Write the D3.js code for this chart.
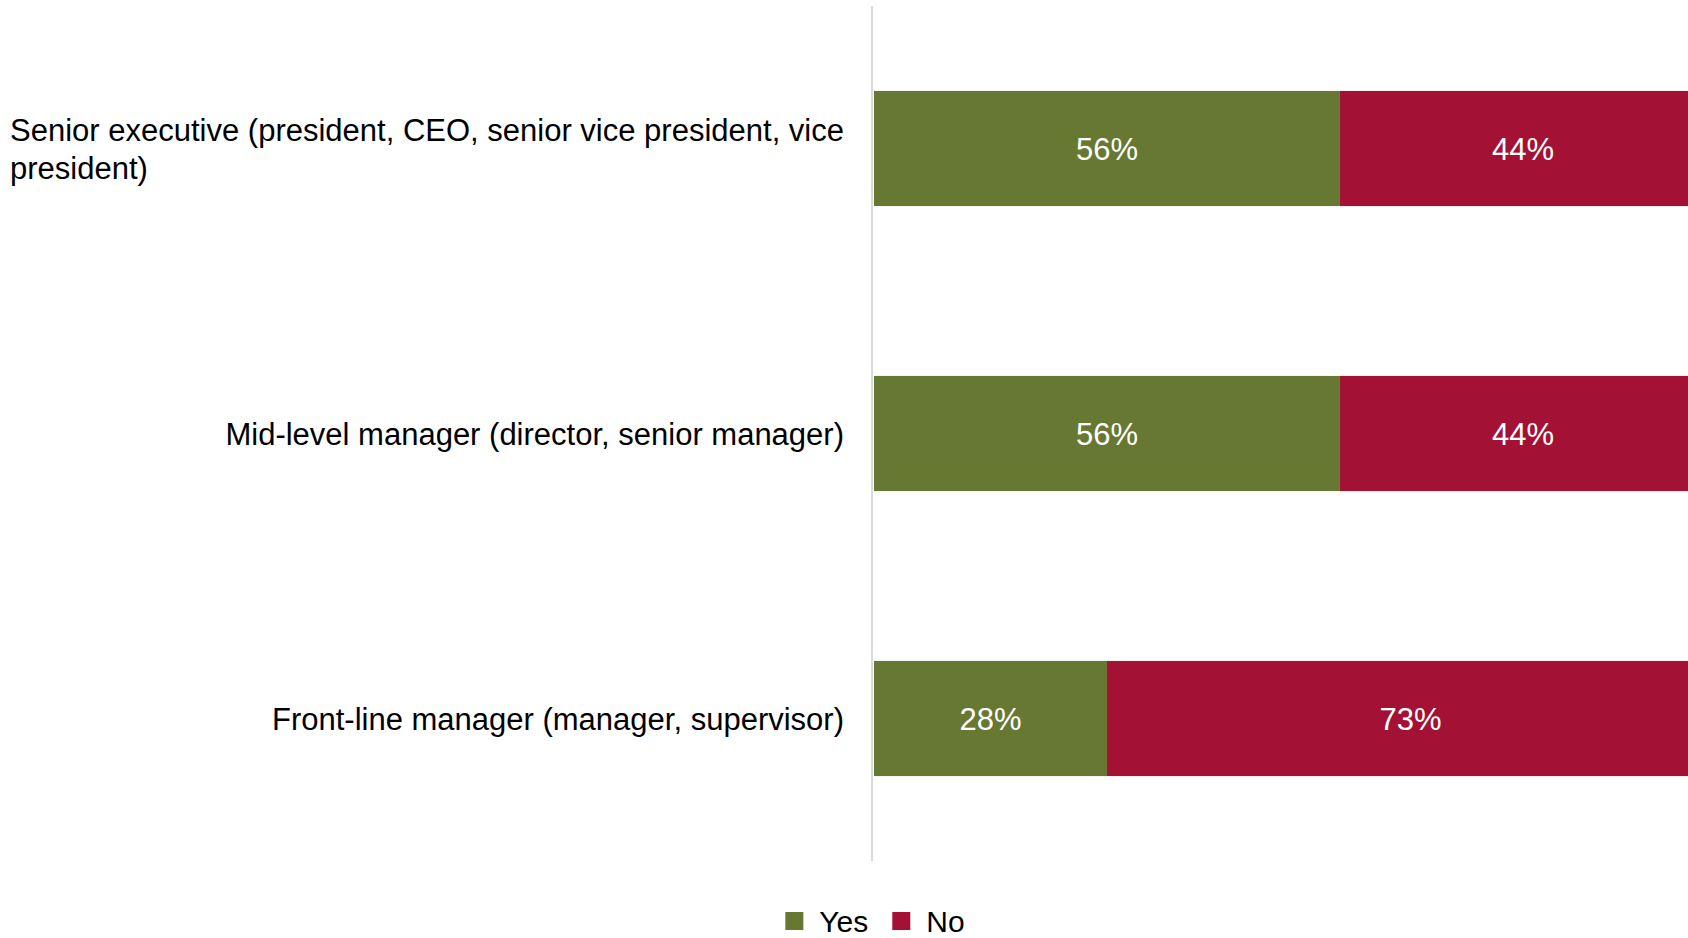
<!DOCTYPE html>
<html>
<head>
<meta charset="utf-8">
<script src="https://cdn.jsdelivr.net/npm/d3@7"></script>
<style>
  html, body { margin: 0; padding: 0; background: #ffffff; }
  svg { display: block; }
  text { font-family: "Liberation Sans", Arial, sans-serif; }
</style>
</head>
<body>
<script>
// ---- data ----
const categories = [
  "Senior executive (president, CEO, senior vice president, vice president)",
  "Mid-level manager (director, senior manager)",
  "Front-line manager (manager, supervisor)"
];
const seriesNames = ["Yes", "No"];
const yesValues = [56, 56, 28];
const noValues = [44, 44, 73];
const seriesColors = ["#677833", "#a31134"];

// ---- layout ----
const W = 1688, H = 938;
const fontSize = 31;
const labelRight = 844;
const labelMaxWidth = 835;

const svg = d3.select("body").append("svg").attr("width", W).attr("height", H);

const rows = categories.map((c, i) => ({ cat: c, yes: yesValues[i], no: noValues[i] }));

const x = d3.scaleLinear().domain([0, 100]).range([874, 1706]);
const y = d3.scaleBand().domain(categories).range([6, 861]).paddingInner(0.596).paddingOuter(0.298);

const stack = d3.stack().keys(["yes", "no"]);
const stacked = stack(rows);

const gBars = svg.append("g");
stacked.forEach((layer, li) => {
  gBars.selectAll(null).data(layer).enter().append("rect")
    .attr("x", d => x(d[0]))
    .attr("y", d => y(d.data.cat))
    .attr("width", d => x(d[1]) - x(d[0]))
    .attr("height", y.bandwidth())
    .attr("fill", seriesColors[li]);
  gBars.selectAll(null).data(layer).enter().append("text")
    .attr("x", d => (x(d[0]) + x(d[1])) / 2)
    .attr("y", d => y(d.data.cat) + y.bandwidth() / 2)
    .attr("dy", "0.36em")
    .attr("text-anchor", "middle")
    .attr("fill", "#ffffff")
    .style("font-size", fontSize + "px")
    .text(d => Math.round(d[1] - d[0]) + "%");
});

// vertical axis line
svg.append("line")
  .attr("x1", 872).attr("x2", 872)
  .attr("y1", y.range()[0]).attr("y2", y.range()[1])
  .attr("stroke", "#d9d9d9").attr("stroke-width", 2);

// category labels with wrapping
const measure = svg.append("text").style("font-size", fontSize + "px").attr("visibility", "hidden");
function textW(s) { measure.text(s); return measure.node().getComputedTextLength(); }
function wrap(s) {
  const words = s.split(" ");
  const lines = [];
  let cur = "";
  words.forEach(w => {
    const t = cur ? cur + " " + w : w;
    if (textW(t) > labelMaxWidth && cur) { lines.push(cur); cur = w; }
    else cur = t;
  });
  if (cur) lines.push(cur);
  return lines;
}
const lineH = 38;
categories.forEach(c => {
  const lines = wrap(c);
  const blockW = d3.max(lines, l => textW(l));
  const cy = y(c) + y.bandwidth() / 2;
  const t = svg.append("text")
    .style("font-size", fontSize + "px")
    .attr("fill", "#000000")
    .attr("text-anchor", "start");
  lines.forEach((l, i) => {
    t.append("tspan")
      .attr("x", labelRight - blockW)
      .attr("y", cy + (i - (lines.length - 1) / 2) * lineH)
      .attr("dy", "0.36em")
      .text(l);
  });
});
measure.remove();

// legend
const legendFont = 30;
const legend = svg.append("g");
const sq = 18, gapSqText = 16, gapItems = 24;
let lx = 0;
seriesNames.forEach((n, i) => {
  const g = legend.append("g");
  g.append("rect").attr("x", lx).attr("y", -sq / 2).attr("width", sq).attr("height", sq).attr("fill", seriesColors[i]);
  const tt = g.append("text").attr("x", lx + sq + gapSqText).attr("y", 0).attr("dy", "0.36em")
    .style("font-size", legendFont + "px").attr("fill", "#000").text(n);
  lx += sq + gapSqText + tt.node().getComputedTextLength() + gapItems;
});
const legendW = lx - gapItems;
legend.attr("transform", `translate(${875 - legendW / 2}, 921)`);
</script>
</body>
</html>
